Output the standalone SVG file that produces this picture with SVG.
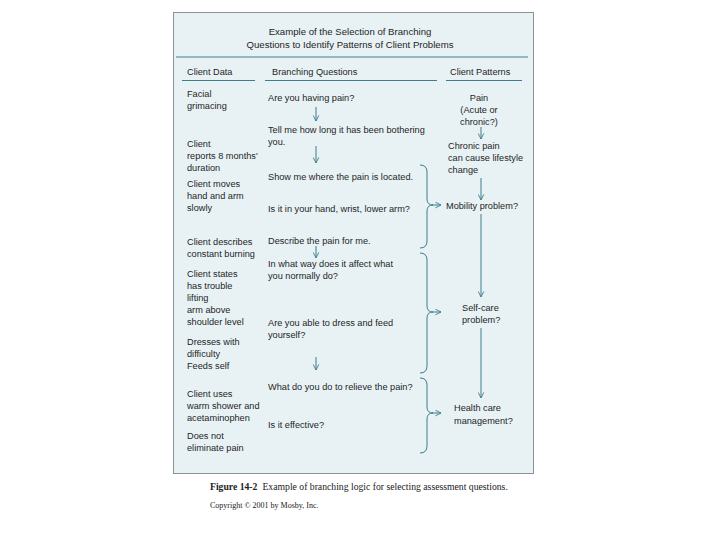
<svg xmlns="http://www.w3.org/2000/svg" width="720" height="540" viewBox="0 0 720 540">
<style>
text{font-family:"Liberation Sans",Arial,sans-serif;fill:#1e1e1e;font-size:9.2px}
.title{font-size:9.6px;text-anchor:middle}
.hd{font-size:9.2px}
.ln{stroke:#3f7d8c;stroke-width:1;fill:none}
.cap{font-family:"Liberation Serif","Times New Roman",serif;font-size:9.7px;fill:#222}
</style>
<defs>
<marker id="ah" viewBox="0 0 10 10" refX="9" refY="5" markerWidth="7" markerHeight="7" orient="auto" markerUnits="userSpaceOnUse">
<path d="M1,1 L9,5 L1,9" fill="none" stroke="#3f7d8c" stroke-width="1.3"/>
</marker>
</defs>
<rect width="720" height="540" fill="#ffffff"/>
<rect id="panel" x="173.5" y="12.5" width="360" height="461" fill="#e8f2f5" stroke="#8a9396" stroke-width="1"/>
<g id="title">
<text class="title" x="350" y="35">Example of the Selection of Branching</text>
<text class="title" x="350" y="48">Questions to Identify Patterns of Client Problems</text>
</g>
<line x1="176" y1="57" x2="528" y2="57" class="ln"/>
<g id="headers">
<text class="hd" x="187" y="75">Client Data</text>
<text class="hd" x="272" y="75">Branching Questions</text>
<text class="hd" x="450" y="75">Client Patterns</text>
<line x1="182" y1="80.5" x2="255" y2="80.5" class="ln"/>
<line x1="265" y1="80.5" x2="437" y2="80.5" class="ln"/>
<line x1="446" y1="80.5" x2="522" y2="80.5" class="ln"/>
</g>
<g id="client-data">
<text x="187" y="97">Facial</text>
<text x="187" y="109">grimacing</text>
<text x="187" y="147">Client</text>
<text x="187" y="159">reports 8 months'</text>
<text x="187" y="171">duration</text>
<text x="187" y="187">Client moves</text>
<text x="187" y="199">hand and arm</text>
<text x="187" y="211">slowly</text>
<text x="187" y="245">Client describes</text>
<text x="187" y="257">constant burning</text>
<text x="187" y="277">Client states</text>
<text x="187" y="289">has trouble</text>
<text x="187" y="301">lifting</text>
<text x="187" y="313">arm above</text>
<text x="187" y="325">shoulder level</text>
<text x="187" y="345">Dresses with</text>
<text x="187" y="357">difficulty</text>
<text x="187" y="369">Feeds self</text>
<text x="187" y="397">Client uses</text>
<text x="187" y="409">warm shower and</text>
<text x="187" y="421">acetaminophen</text>
<text x="187" y="439">Does not</text>
<text x="187" y="451">eliminate pain</text>
</g>
<g id="questions">
<text x="268" y="101">Are you having pain?</text>
<text x="268" y="133">Tell me how long it has been bothering</text>
<text x="268" y="145">you.</text>
<text x="268" y="180">Show me where the pain is located.</text>
<text x="268" y="212">Is it in your hand, wrist, lower arm?</text>
<text x="268" y="244">Describe the pain for me.</text>
<text x="268" y="267">In what way does it affect what</text>
<text x="268" y="279">you normally do?</text>
<text x="268" y="326">Are you able to dress and feed</text>
<text x="268" y="338">yourself?</text>
<text x="268" y="390">What do you do to relieve the pain?</text>
<text x="268" y="428">Is it effective?</text>
</g>
<g id="patterns">
<text x="479" y="101" text-anchor="middle">Pain</text>
<text x="479" y="113" text-anchor="middle">(Acute or</text>
<text x="479" y="125" text-anchor="middle">chronic?)</text>
<text x="448" y="149">Chronic pain</text>
<text x="448" y="161">can cause lifestyle</text>
<text x="448" y="173">change</text>
<text x="446" y="209">Mobility problem?</text>
<text x="462" y="311">Self-care</text>
<text x="462" y="323">problem?</text>
<text x="454" y="411">Health care</text>
<text x="454" y="424">management?</text>
</g>
<g id="connectors">
<line x1="316" y1="107" x2="316" y2="121" class="ln" marker-end="url(#ah)"/>
<line x1="316" y1="146" x2="316" y2="163" class="ln" marker-end="url(#ah)"/>
<line x1="316" y1="246" x2="316" y2="258" class="ln" marker-end="url(#ah)"/>
<line x1="316" y1="357" x2="316" y2="370" class="ln" marker-end="url(#ah)"/>
<line x1="481" y1="127" x2="481" y2="139" class="ln" marker-end="url(#ah)"/>
<line x1="481" y1="178" x2="481" y2="200" class="ln" marker-end="url(#ah)"/>
<line x1="481" y1="214" x2="481" y2="297" class="ln" marker-end="url(#ah)"/>
<line x1="481" y1="328" x2="481" y2="398" class="ln" marker-end="url(#ah)"/>
<path class="ln" d="M420,165 Q427,165 427,172 L427,199 Q427,205 433,205 Q427,205 427,211 L427,241 Q427,248 420,248"/>
<line x1="432" y1="205" x2="441" y2="205" class="ln" marker-end="url(#ah)"/>
<path class="ln" d="M420,253 Q427,253 427,260 L427,306 Q427,312 433,312 Q427,312 427,318 L427,366 Q427,373 420,373"/>
<line x1="432" y1="312" x2="441" y2="312" class="ln" marker-end="url(#ah)"/>
<path class="ln" d="M420,378 Q427,378 427,385 L427,407 Q427,413 433,413 Q427,413 427,419 L427,446 Q427,453 420,453"/>
<line x1="432" y1="413" x2="441" y2="413" class="ln" marker-end="url(#ah)"/>
</g>
<g id="caption">
<text class="cap" x="210" y="490"><tspan font-weight="bold">Figure 14-2</tspan><tspan dx="5">Example of branching logic for selecting assessment questions.</tspan></text>
<text class="cap" x="210" y="508" style="font-size:8px">Copyright © 2001 by Mosby, Inc.</text>
</g>
</svg>
